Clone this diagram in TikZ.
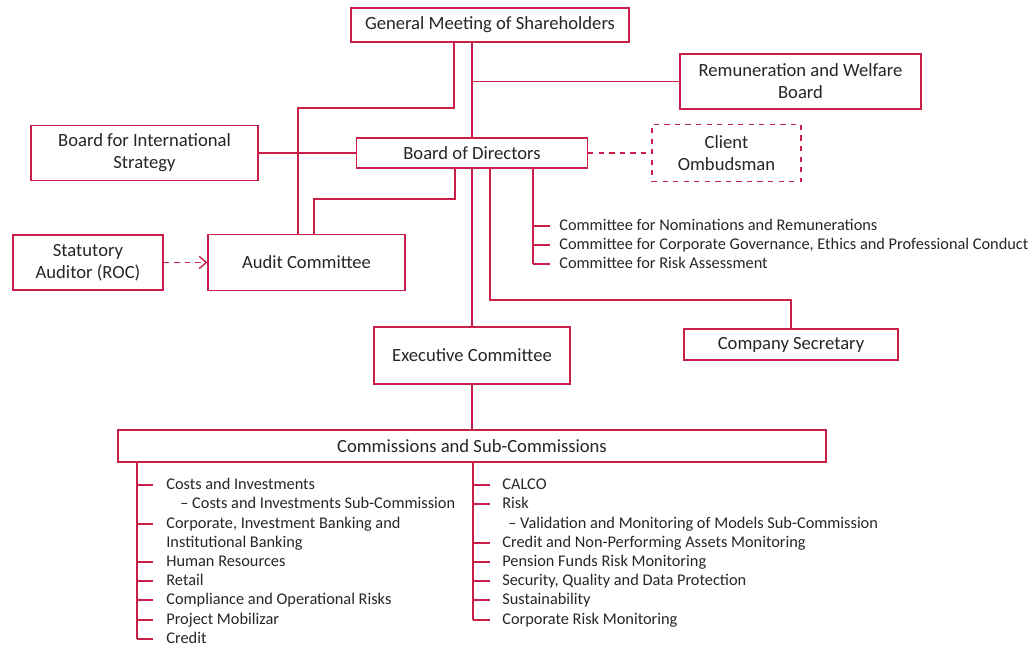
\documentclass[tikz,border=0pt]{standalone}
\usepackage{fontspec}
\setmainfont{Carlito}
\usepackage{xcolor}
\usepackage{tikz}
\usetikzlibrary{arrows.meta}

\definecolor{orgred}{RGB}{200,32,72}
\definecolor{orgtext}{RGB}{38,38,38}

\tikzset{
  orgbox/.style={draw=orgred, line width=0.8pt, fill=white, text=orgtext,
                 align=center, font=\fontsize{10.6}{12.4}\selectfont, inner sep=2pt},
  link/.style={draw=orgred, line width=0.8pt},
  item/.style={anchor=west, text=orgtext, inner sep=0pt,
               text height=7pt, text depth=2pt,
               font=\fontsize{9.3}{11}\selectfont}
}

\begin{document}
\begin{tikzpicture}[x=0.02cm, y=-0.02cm]

    \useasboundingbox (0,0) rectangle (1036,648);

    % Governing bodies
    \node[orgbox, minimum width=5.56cm, minimum height=0.68cm] (meeting) at (490,25)
        {General Meeting of Shareholders};

    \node[orgbox, minimum width=4.82cm, minimum height=1.10cm] (remun) at (800.5,81.5)
        {Remuneration and Welfare\\Board};

    \node[orgbox, minimum width=4.54cm, minimum height=1.10cm] (intl) at (144.5,153)
        {Board for International\\Strategy};

    \node[orgbox, minimum width=4.62cm, minimum height=0.60cm] (board) at (472,153)
        {Board of Directors};

    \node[orgbox, dashed, minimum width=2.98cm, minimum height=1.14cm] (ombud) at (726.5,153)
        {Client\\Ombudsman};

    \node[orgbox, minimum width=3.00cm, minimum height=1.10cm] (auditor) at (88,262.5)
        {Statutory\\Auditor (ROC)};

    \node[orgbox, minimum width=3.94cm, minimum height=1.12cm] (audit) at (306.5,262.5)
        {Audit Committee};

    \node[orgbox, minimum width=3.92cm, minimum height=1.14cm] (exec) at (472,355.5)
        {Executive Committee};

    \node[orgbox, minimum width=4.28cm, minimum height=0.62cm] (secretary) at (791,344.5)
        {Company Secretary};

    \node[orgbox, minimum width=14.16cm, minimum height=0.64cm] (commis) at (472,446)
        {Commissions and Sub-Commissions};

    % --------------------
    % Board committees
    % --------------------
    \node[item] (c1) at (559,226) {Committee for Nominations and Remunerations};
    \node[item] (c2) at (559,245) {Committee for Corporate Governance, Ethics and Professional Conduct};
    \node[item] (c3) at (559,264) {Committee for Risk Assessment};

    % --------------------
    % Commissions lists
    % --------------------
    \node[item] (l1) at (166,485) {Costs and Investments};
    \node[item] (l2) at (180,504) {-- Costs and Investments Sub-Commission};
    \node[item] (l3) at (166,524) {Corporate, Investment Banking and};
    \node[item] (l4) at (166,543) {Institutional Banking};
    \node[item] (l5) at (166,562) {Human Resources};
    \node[item] (l6) at (166,581) {Retail};
    \node[item] (l7) at (166,600) {Compliance and Operational Risks};
    \node[item] (l8) at (166,620) {Project Mobilizar};
    \node[item] (l9) at (166,639) {Credit};

    \node[item] (r1) at (502,485) {CALCO};
    \node[item] (r2) at (502,504) {Risk};
    \node[item] (r3) at (508,524) {-- Validation and Monitoring of Models Sub-Commission};
    \node[item] (r4) at (502,543) {Credit and Non-Performing Assets Monitoring};
    \node[item] (r5) at (502,562) {Pension Funds Risk Monitoring};
    \node[item] (r6) at (502,581) {Security, Quality and Data Protection};
    \node[item] (r7) at (502,600) {Sustainability};
    \node[item] (r8) at (502,620) {Corporate Risk Monitoring};

    % --------------------
    % Connectors
    % --------------------
    \coordinate (gmbend) at (454,108);
    \coordinate (auleft) at (298,108);
    \coordinate (bdbend) at (455,199);
    \coordinate (auright) at (314,199);
    \coordinate (secbend) at (490,300);
    \coordinate (comspine) at (533,226);
    \coordinate (lspine) at (137,485);
    \coordinate (rspine) at (473,485);

    \draw[link] (meeting.south -| gmbend) -- (gmbend) -- (auleft) -- (audit.north -| auleft);
    \draw[link] (meeting.south -| board.north) -- (board.north);
    \draw[link] (board.north |- remun.west) -- (remun.west);

    \draw[link] (intl.east) -- (board.west);
    \draw[link, dashed] (board.east) -- (ombud.west);
    \draw[link, dashed, -{Straight Barb[length=4pt, width=7pt]}] (auditor.east) -- (audit.west);

    \draw[link] (board.south -| bdbend) -- (bdbend) -- (auright) -- (audit.north -| auright);
    \draw[link] (board.south) -- (exec.north);
    \draw[link] (board.south -| secbend) -- (secbend) -| (secretary.north);

    \draw[link] (board.south -| comspine) -- (c3.west -| comspine);
    \foreach \c in {c1,c2,c3}
        \draw[link] (\c.west -| comspine) -- ++(17,0);

    \draw[link] (exec.south) -- (commis.north);

    \draw[link] (commis.south -| lspine) -- (l9.west -| lspine);
    \foreach \c in {l1,l3,l5,l6,l7,l8,l9}
        \draw[link] (\c.west -| lspine) -- ++(16,0);

    \draw[link] (commis.south -| rspine) -- (r8.west -| rspine);
    \foreach \c in {r1,r2,r4,r5,r6,r7,r8}
        \draw[link] (\c.west -| rspine) -- ++(17,0);

\end{tikzpicture}
\end{document}
